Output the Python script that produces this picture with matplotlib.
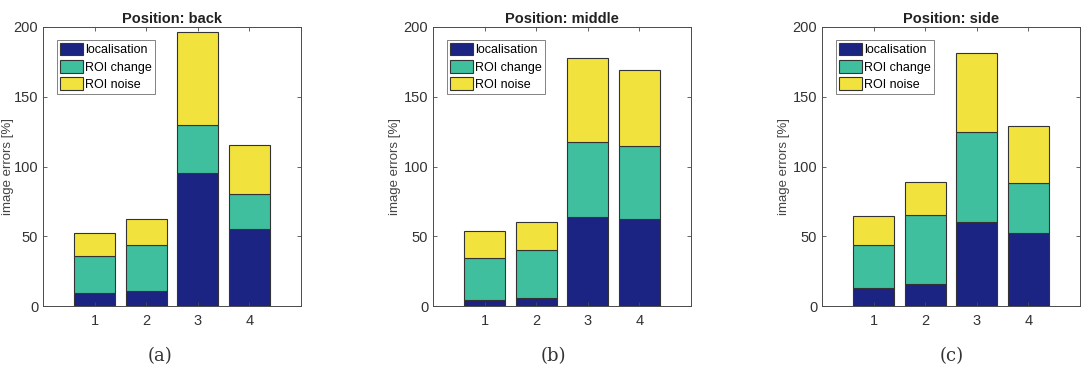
import numpy as np
import matplotlib
matplotlib.use("Agg")
import matplotlib.pyplot as plt

plt.rcParams['font.family'] = ['Liberation Sans', 'DejaVu Sans']

groups = [1, 2, 3, 4]
positions = ["back", "middle", "side"]
captions = ["(a)", "(b)", "(c)"]
series = ["localisation", "ROI change", "ROI noise"]

# cumulative tops, converted to segment heights below
loc_top = [[9, 11, 95, 55], [4.3, 5.7, 64, 62.6], [13, 15.5, 60.5, 52.3]]
chg_top = [[36, 44, 129.5, 80.5], [34.2, 40.4, 117.6, 114.7], [43.7, 65.2, 124.5, 88]]
noi_top = [[52.3, 62.4, 196.7, 115.7], [53.5, 60, 178, 169.4], [64.8, 89, 181.4, 128.8]]

colors = ["#1b2483", "#3fbf9e", "#f2e23d"]
gray = "#4a4a4a"

fig = plt.figure(figsize=(10.84, 3.88), dpi=100)
W, H = 1084, 388
lefts = [43, 433, 822]
cap_x = [160, 553, 952]
ylab_off = [-29, -32, -32]

for k in range(3):
    ax = fig.add_axes([lefts[k] / W, 1 - 306 / H, 258 / W, 279 / H])
    loc = np.array(loc_top[k])
    chg = np.array(chg_top[k]) - loc
    noi = np.array(noi_top[k]) - np.array(chg_top[k])
    bottom = np.zeros(4)
    for vals, c, lab in zip([loc, chg, noi], colors, series):
        ax.bar(groups, vals, 0.8, bottom=bottom, color=c, edgecolor="#333333",
               linewidth=0.8, label=lab)
        bottom = bottom + vals
    ax.set_xlim(0, 5)
    ax.set_ylim(0, 200)
    ax.set_xticks(groups)
    ax.set_yticks([0, 50, 100, 150, 200])
    ax.tick_params(direction="in", top=True, right=True, length=3, colors=gray,
                   labelsize=10.5, labelcolor="#333333", width=0.6, pad=3.5)
    ax.tick_params(axis="x", pad=6)
    for s in ax.spines.values():
        s.set_color(gray)
        s.set_linewidth(0.7)
    ax.set_ylabel("image errors [%]", fontsize=9.5, color="#444444")
    ax.yaxis.set_label_coords(ylab_off[k] / 258, 0.5)
    ax.set_title("Position: " + positions[k], fontsize=10.5, fontweight="bold",
                 color="#222222", pad=3)
    leg = ax.legend(loc="upper left", bbox_to_anchor=(0.055, 0.955), fontsize=9,
                    frameon=True, fancybox=False, borderpad=0.25, labelspacing=0.3,
                    handlelength=1.8, handleheight=1.2, handletextpad=0.15,
                    borderaxespad=0.0)
    leg.get_frame().set_edgecolor(gray)
    leg.get_frame().set_linewidth(0.6)
    fig.text(cap_x[k] / W, 1 - 356 / H, captions[k], ha="center", va="center",
             fontsize=13, family="DejaVu Serif", color="#333333")

fig.savefig("out.png", dpi=100)
